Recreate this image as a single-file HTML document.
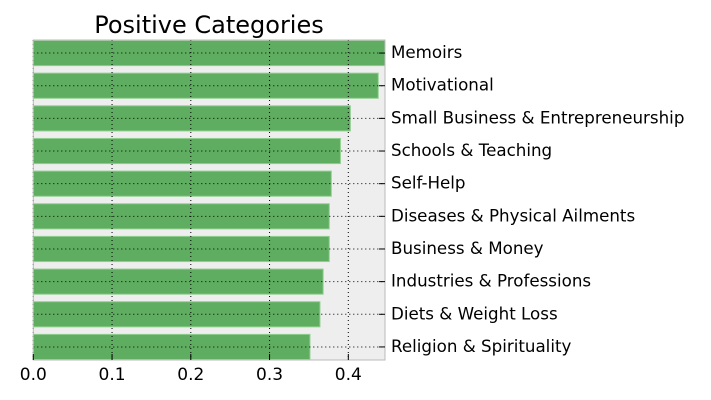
<!DOCTYPE html>
<html><head><meta charset="utf-8"><style>
body{margin:0;background:#fff;}
svg{display:block;font-family:"DejaVu Sans","Liberation Sans",sans-serif;}
</style></head><body>
<svg id="chart" width="711" height="400">
<text x="209" y="33" font-size="24" text-anchor="middle" fill="#000">Positive Categories</text>
</svg>
<script>
const categories = ["Memoirs","Motivational","Small Business & Entrepreneurship","Schools & Teaching","Self-Help","Diseases & Physical Ailments","Business & Money","Industries & Professions","Diets & Weight Loss","Religion & Spirituality"];
const values = [0.4466,0.438,0.4026,0.390,0.3784,0.3758,0.3758,0.368,0.364,0.3513];
const xTicks = [0.0,0.1,0.2,0.3,0.4];
const xTickLabels = ["0.0","0.1","0.2","0.3","0.4"];

const NS="http://www.w3.org/2000/svg";
const svg=document.getElementById('chart');
const L=33.3,R=385,T=40,B=360;
const xMax=Math.max(...values);
const x=v=>L+(v/xMax)*(R-L);
const yMin=-0.4,yMax=categories.length-0.6;
const y=i=>T+(i-yMin)/(yMax-yMin)*(B-T);
const unit=(B-T)/(yMax-yMin);
function mk(tag,attrs,parent){const e=document.createElementNS(NS,tag);for(const k in attrs)e.setAttribute(k,attrs[k]);(parent||svg).appendChild(e);return e;}

const bg=mk('rect',{x:L,y:T,width:R-L,height:B-T,fill:'#eeeeee'});



categories.forEach((c,i)=>{
  const b=mk('rect',{x:L,y:y(i)-0.4*unit+0.5,width:x(values[i])-L,height:0.8*unit-1,fill:'#5fad60',stroke:'#8fcf8f','stroke-width':1});
  
  
});
xTicks.forEach(t=>{
  const g=mk('line',{x1:x(t),x2:x(t),y1:T,y2:B,stroke:'#000','stroke-width':1,'stroke-dasharray':'1,3'});
  
  
});
categories.forEach((c,i)=>{
  const g=mk('line',{x1:L,x2:R,y1:y(i),y2:y(i),stroke:'#000','stroke-width':1,'stroke-dasharray':'1,3'});
  
  
});
const fr=mk('rect',{x:L,y:T,width:R-L,height:B-T,fill:'none',stroke:'#bbbbbb','stroke-width':1});



xTicks.forEach((t,k)=>{
  const tk=mk('line',{x1:x(t),x2:x(t),y1:B,y2:B-6,stroke:'#000'});
  
  
  const tx=mk('text',{x:x(t),y:B+20,'font-size':17,'text-anchor':'middle',fill:'#000'});
  tx.textContent=xTickLabels[k];
  
  
});
categories.forEach((c,i)=>{
  const tk=mk('line',{x1:R,x2:R-6,y1:y(i),y2:y(i),stroke:'#000'});
  
  
  const tx=mk('text',{x:R+6,y:y(i)+5,'font-size':16.7,fill:'#000'});
  tx.textContent=c;
  
  
});
</script>
</body></html>
